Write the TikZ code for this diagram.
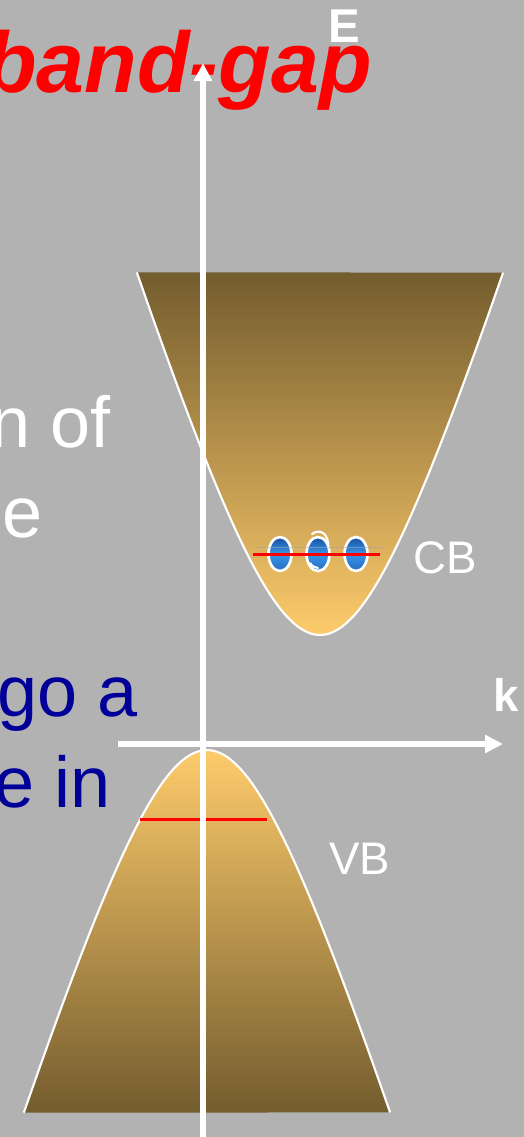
\documentclass[tikz,border=0pt]{standalone}
\usepackage{fontspec}
\setmainfont{Liberation Sans}
\usepackage{tikz}
\usetikzlibrary{arrows.meta}
\usetikzlibrary{shapes.geometric,positioning}
\definecolor{bggray}{RGB}{178,178,178}
\definecolor{banddark}{RGB}{115,92,46}
\definecolor{bandlight}{RGB}{253,203,107}
\definecolor{textblue}{RGB}{0,0,153}
\definecolor{eldark}{RGB}{25,80,160}
\definecolor{ellight}{RGB}{55,150,235}
\tikzset{
    axisarrow/.style={
        line width=3pt,
        white,
        -{Triangle[length=0.36cm, width=0.35cm]}
    },
    % white rim of the two bands
    bandedge/.style={
        line width=1.2pt,
        white
    },
    redlevel/.style={
        line width=1.7pt,
        red
    },
    electron/.style={
        ellipse,
        draw=white,
        line width=1.5pt,
        minimum width=0.46cm,
        minimum height=0.68cm,
        inner sep=0pt,
        top color=eldark,
        bottom color=eldark!60!ellight,
        middle color=ellight
    },
    slidetext/.style={
        anchor=base east,
        inner sep=0pt,
        font=\fontsize{41}{49}\selectfont
    },
    bandlabel/.style={
        anchor=base west,
        inner sep=0pt,
        white,
        font=\fontsize{26}{31}\selectfont
    }
}

\begin{document}
\begin{tikzpicture}[x=0.02cm, y=-0.02cm]
   \fill[bggray] (0,0) rectangle (524,1137);
   \clip (0,0) rectangle (524,1137);

   % title and the cut-off slide text
   \node[anchor=base east, inner sep=0pt, text=red,
         font=\fontsize{49}{58}\selectfont\bfseries\itshape] (title) at (372,92) {band-gap};
   \node[slidetext, white] (txt1) at (111,447) {n of};
   \node[slidetext, white] (txt2) at (43,537) {e};
   \node[slidetext, textblue] (txt3) at (138,716) {go a};
   \node[slidetext, textblue] (txt4) at (111,807) {e in};

   % conduction band
   \shade[top color=banddark, bottom color=bandlight]
     plot[domain=-1.43:1.43, samples=41, smooth, variable=\t]
     ({320+93*sinh(\t)},{635-300*(cosh(\t)-1)}) -- cycle;
   \draw[bandedge]
     plot[domain=-1.43:1.43, samples=41, smooth, variable=\t]
     ({320+93*sinh(\t)},{635-300*(cosh(\t)-1)});

   % valence band
   \shade[top color=bandlight, bottom color=banddark]
     plot[domain=-1.43:1.43, samples=41, smooth, variable=\t]
     ({207+93*sinh(\t)},{750+300*(cosh(\t)-1)}) -- cycle;
   \draw[bandedge]
     plot[domain=-1.43:1.43, samples=41, smooth, variable=\t]
     ({207+93*sinh(\t)},{750+300*(cosh(\t)-1)});

   % electrons in CB
   \node[electron] (el1) at (280,554) {};
   \node[electron] (el2) at (318,554) {};
   \node[electron] (el3) at (356,554) {};
   \draw[white, line width=1.2pt, line cap=round]
     (312,534) .. controls (320,528) and (328,534) .. (328,544);
   \draw[white, line width=1.2pt, line cap=round]
     (310,563) .. controls (312,566) and (315,568) .. (318,568);
   \draw[gray!70, line width=0.4pt, opacity=0.6] (255,547) -- (383,547);

   % red levels
   \draw[redlevel] (253,554) -- (380,554);
   \draw[redlevel] (140,819) -- (267,819);

   % axes
   \coordinate (Ebot) at (203,1137);
   \coordinate (Etop) at (203,63);
   \coordinate (kleft) at (118,744);
   \coordinate (kright) at (503,744);
   \draw[axisarrow] (Ebot) -- (Etop);
   \draw[axisarrow] (kleft) -- (kright);
   \node[anchor=base west, inner sep=0pt, white,
         font=\fontsize{27}{32}\selectfont\bfseries] (Elab) at (328,42) {E};
   \node[anchor=base west, inner sep=0pt, white,
         font=\fontsize{26}{31}\selectfont\bfseries] (klab) at (493,711) {k};

   \node[bandlabel] (CB) at (413,573) {CB};
   \node[bandlabel] (VB) at (329,874) {VB};
\end{tikzpicture}
\end{document}
